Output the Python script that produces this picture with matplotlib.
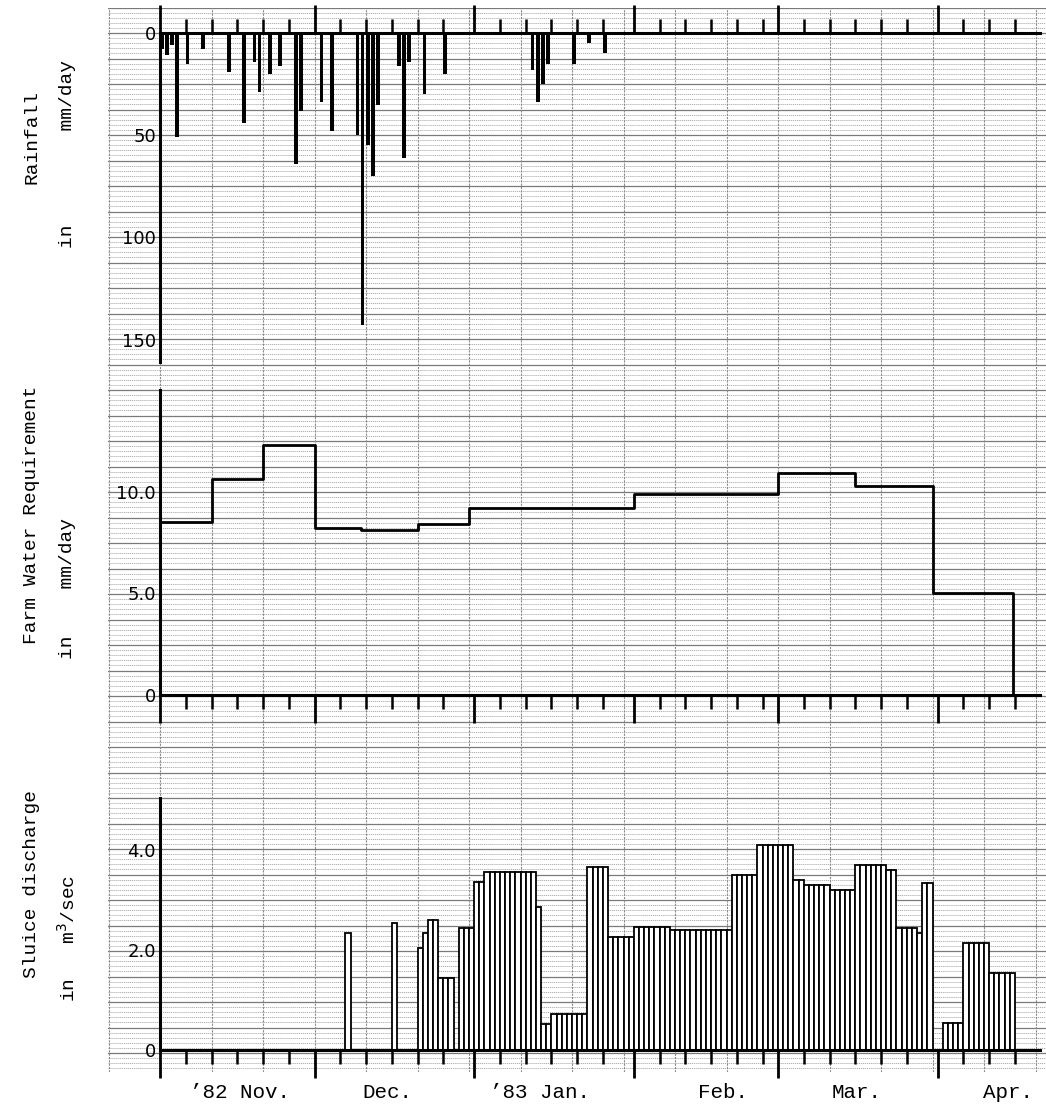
import matplotlib
matplotlib.use("Agg")
import matplotlib.pyplot as plt
import numpy as np

W, H = 1046, 1108

# day 0 = 1 Nov 1982
rain_day = [0, 1, 2, 3, 5, 8, 13, 16, 18, 19, 21, 23, 26, 27, 31, 33,
            38, 39, 40, 41, 42, 46, 47, 48, 51, 55, 72, 73, 74, 75, 80, 83, 86]
rain_mm = [8, 11, 6, 51, 15, 8, 19, 44, 14, 29, 20, 16, 64, 38, 34, 48,
           50, 143, 55, 70, 35, 16, 61, 14, 30, 20, 18, 34, 25, 15, 15, 5, 10]

fwr_day = [0, 10, 20, 30, 39, 50, 60, 92, 120, 135, 150, 165.6]
fwr_mm = [8.5, 10.6, 12.3, 8.2, 8.1, 8.4, 9.2, 9.9, 10.9, 10.3, 5.0, 0]

q_first_day = 36
q_m3s = [2.35, 0, 0, 0, 0, 0, 0, 0, 0, 2.55, 0, 0, 0, 0,          # d36-49
         2.05, 2.35, 2.6, 2.6, 1.45, 1.45, 1.45, 0,                  # d50-57
         2.44, 2.44, 2.44, 3.37, 3.37,                               # d58-62
         3.57, 3.57, 3.57, 3.57, 3.57, 3.57, 3.57, 3.57, 3.57, 3.57,  # d63-72
         2.87, 0.53, 0.53, 0.73, 0.73, 0.73, 0.73, 0.73, 0.73, 0.73,  # d73-82
         3.67, 3.67, 3.67, 3.67, 2.27, 2.27, 2.27, 2.27, 2.27,        # d83-91
         2.47, 2.47, 2.47, 2.47, 2.47, 2.47, 2.47,                    # d92-98
         2.4, 2.4, 2.4, 2.4, 2.4, 2.4, 2.4, 2.4, 2.4, 2.4, 2.4, 2.4,  # d99-110
         3.5, 3.5, 3.5, 3.5, 3.5, 4.1, 4.1, 4.1, 4.1, 4.1, 4.1, 4.1,  # d111-122
         3.4, 3.4, 3.3, 3.3, 3.3, 3.3, 3.3, 3.2, 3.2, 3.2, 3.2, 3.2,  # d123-134
         3.7, 3.7, 3.7, 3.7, 3.7, 3.7, 3.6, 3.6,                      # d135-142
         2.45, 2.45, 2.45, 2.45, 2.35, 3.35, 3.35, 0, 0,              # d143-151
         0.55, 0.55, 0.55, 0.55, 2.15, 2.15, 2.15, 2.15, 2.15,        # d152-160
         1.55, 1.55, 1.55, 1.55, 1.55]                                # d161-165

month_start = [0, 30, 61, 92, 120, 151]
month_label = ["\u201982 Nov.", "Dec.", "\u201983 Jan.", "Feb.", "Mar.", "Apr."]
month_label_day = [15.5, 44.1, 73.8, 109.3, 135.3, 164.7]

PX_PER_DAY = 5.15
X0 = 160
XMAX = (1040 - X0) / PX_PER_DAY

MONO = "Liberation Mono"


def box(top, bottom, left=X0, right=1040):
    return [left / W, 1 - bottom / H, (right - left) / W, (bottom - top) / H]


fig = plt.figure(figsize=(W / 100, H / 100), dpi=100)

# graph paper
bg = fig.add_axes(box(8, 1072, left=108, right=1046), zorder=0)
bg.set_xlim(-(X0 - 108) / PX_PER_DAY, (1046 - X0) / PX_PER_DAY)
bg.set_ylim(1072, 8)
bg.axis("off")
for y in np.arange(33 - 5.1 * 4, 1072, 5.1):
    bg.axhline(y, color="#b0b0b0", lw=0.7, ls=(0, (1.2, 0.8)))
for y in np.arange(33 - 25.5, 1072, 25.5):
    bg.axhline(y, color="#7a7a7a", lw=0.9)
for x in np.arange(-10, 180, 10):
    bg.axvline(x, color="#8a8a8a", lw=0.8, ls=(0, (2, 1)))

minor_days = [m + k for m in month_start for k in (5, 10, 15, 20, 25) if m + k < XMAX]


def style(ax, ylim, yticks, ylabels, xside):
    ax.set_facecolor("none")
    ax.set_xlim(0, XMAX)
    ax.set_ylim(*ylim)
    for s in ax.spines.values():
        s.set_visible(False)
    ax.spines["left"].set_visible(True)
    ax.spines["left"].set_linewidth(2.2)
    ax.spines[xside].set_visible(True)
    ax.spines[xside].set_linewidth(2.2)
    ax.set_yticks(yticks, ylabels)
    ax.tick_params(axis="y", length=0, pad=3, labelsize=13)
    ax.xaxis.set_ticks_position(xside)
    ax.set_xticks(month_start, [""] * len(month_start))
    ax.set_xticks(minor_days, minor=True)
    ax.tick_params(axis="x", which="major", length=20, width=2, direction="out")
    ax.tick_params(axis="x", which="minor", length=10, width=1.8, direction="out")
    for t in ax.get_yticklabels():
        t.set_fontfamily("DejaVu Sans")


# rainfall
ax1 = fig.add_axes(box(33, 362), zorder=2)
ax1.bar(rain_day, rain_mm, width=0.7, align="edge", color="black")
style(ax1, (161, 0), [0, 50, 100, 150], ["0", "50", "100", "150"], "top")

# farm water requirement
ax2 = fig.add_axes(box(390, 695), zorder=2)
ax2.step(fwr_day + [XMAX], fwr_mm + [0], where="post", color="black", lw=2)
style(ax2, (0, 15), [0, 5, 10], ["0", "5.0", "10.0"], "bottom")

# sluice discharge
ax3 = fig.add_axes(box(798, 1050), zorder=2)
q_day = [q_first_day + i for i in range(len(q_m3s))]
ax3.bar(q_day, q_m3s, width=1.0, align="edge", facecolor="white",
        edgecolor="black", linewidth=1.3)
style(ax3, (0, 5.04), [0, 2, 4], ["0", "2.0", "4.0"], "bottom")

for d, lab in zip(month_label_day, month_label):
    fig.text((X0 + d * PX_PER_DAY) / W, 1 - 1092 / H, lab, family=MONO,
             fontsize=15, ha="center", va="center")

# axis titles (two rotated lines each)
def ytitle(x, ytop, text):
    fig.text(x / W, 1 - ytop / H, text, family=MONO, fontsize=14,
             rotation=90, ha="center", va="top")

ytitle(32, 90, "Rainfall")
ytitle(68, 60, "in        mm/day")
ytitle(32, 385, "Farm Water Requirement")
ytitle(68, 518, "in    mm/day")
ytitle(32, 790, "Sluice discharge")
ytitle(68, 875, "in   m$^3$/sec")

fig.savefig("out.png", dpi=100)
